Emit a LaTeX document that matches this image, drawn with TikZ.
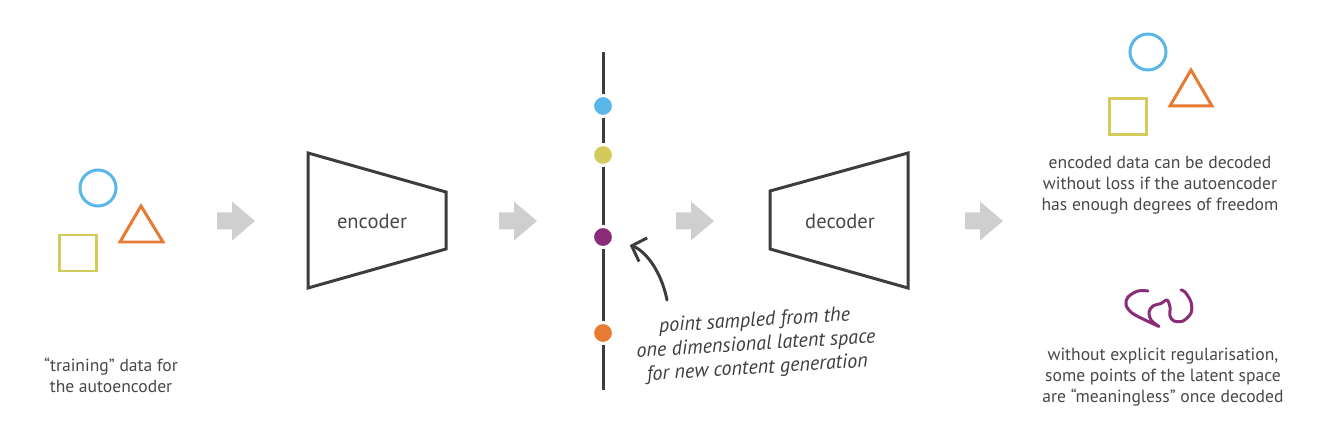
\documentclass[tikz,border=0pt]{standalone}
\usepackage{fontspec}
\setmainfont{PT Sans}
\usetikzlibrary{arrows.meta}
\definecolor{cblue}{HTML}{5BB6E9}
\definecolor{cyellow}{HTML}{D2CB5B}
\definecolor{corange}{HTML}{E77B34}
\definecolor{cpurple}{HTML}{8A2C78}
\definecolor{cline}{HTML}{3D3D3D}
\definecolor{ctext}{HTML}{484848}
\definecolor{carrow}{HTML}{CFCFCF}
\tikzset{
	shapeline/.style={line width=0.06cm},
	coder/.style={line width=0.06cm, draw=cline, line join=miter},
	flowarrow/.pic={\fill[carrow] (-19,-8.5) -- (-4,-8.5) -- (-4,-19.5) -- (19,0) -- (-4,19.5) -- (-4,8.5) -- (-19,8.5) -- cycle;},
	latent/.style={circle, inner sep=0pt, minimum size=0.42cm, draw=white, line width=0.06cm},
	caption/.style={align=center, text=ctext, font=\fontsize{10}{12}\selectfont},
	coderlabel/.style={text=ctext, font=\fontsize{11.7}{13}\selectfont},
	note/.style={align=center, text=cline, font=\fontsize{11.5}{13.5}\selectfont\itshape, rotate=3.5}
}

\begin{document}
\begin{tikzpicture}[x=0.02cm, y=-0.02cm]
			%%%%% START %%%%%
			\useasboundingbox (0,0) rectangle (1320,439);
			
			% input data
			\draw[shapeline, cblue] (98,188) circle (18);
			\draw[shapeline, corange, line join=miter] (120,242) -- (141,206) -- (163,242) -- cycle;
			\draw[shapeline, cyellow] (59,235) rectangle (96,271);
			\node[caption] (lefttext) at (111,375) {“training” data for\\the autoencoder};
			
			\pic (arr1) at (236,221) {flowarrow};
			
			% encoder
			\draw[coder] (308,153) -- (446,192) -- (446,249) -- (308,288) -- cycle;
			\node[coderlabel] (enc) at (372,221) {encoder};
			
			\pic (arr2) at (518,221) {flowarrow};
			
			% latent space
			\draw[shapeline, cline] (603,52) -- (603,390);
			\node[latent, fill=cblue] (p1) at (603,106) {};
			\node[latent, fill=cyellow] (p2) at (603,155) {};
			\node[latent, fill=cpurple] (p3) at (603,237) {};
			\node[latent, fill=corange] (p4) at (603,333) {};
			
			\coordinate (tail) at (667,300);
			\draw[shapeline, cline, line cap=round, -{Straight Barb[length=2.4mm,width=5mm]}, shorten >=0.32cm] (tail) to[bend right=30] (p3);
			\node[note] (sample) at (756,345) {point sampled from the\\one dimensional latent space\\for new content generation};
			
			\pic (arr3) at (695,221) {flowarrow};
			
			% decoder
			\draw[coder] (770,191) -- (908,153) -- (908,288) -- (770,249) -- cycle;
			\node[coderlabel] (dec) at (840,221) {decoder};
			
			\pic (arr4) at (984,221) {flowarrow};
			
			% output
			\draw[shapeline, cblue] (1148,52) circle (18);
			\draw[shapeline, corange, line join=miter] (1170,106) -- (1191,70) -- (1212,106) -- cycle;
			\draw[shapeline, cyellow] (1109,99) rectangle (1146,135);
			\node[caption] (righttop) at (1160,185) {encoded data can be decoded\\without loss if the autoencoder\\has enough degrees of freedom};
			
			\draw[shapeline, cpurple, line cap=round, line join=round] plot[smooth, tension=0.55] coordinates {(1148,291) (1138,291) (1128,297) (1126,305) (1132,313) (1145,320) (1159,326.5)}
				plot[smooth, tension=0.55] coordinates {(1159,326.5) (1151,320) (1149,312) (1153,306) (1161,303.5) (1167,300) (1170,307) (1170,316) (1174,321) (1183,321) (1191,313) (1191,302) (1185,292) (1181,290)};
			\node[caption] (rightbot) at (1163,377) {without explicit regularisation,\\some points of the latent space\\are “meaningless” once decoded};
			%%%%% END %%%%%
\end{tikzpicture}
\end{document}
